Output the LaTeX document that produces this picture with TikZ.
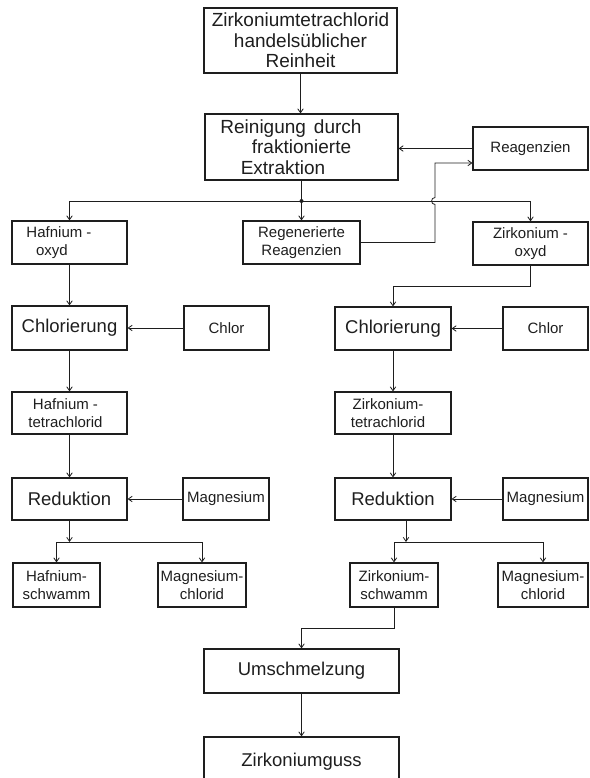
\documentclass[tikz,border=0pt]{standalone}
\usepackage{fontspec}
\setmainfont{Liberation Sans}
\usetikzlibrary{arrows.meta}
\definecolor{ink}{HTML}{1E1E1E}
\begin{document}
\begin{tikzpicture}[x=1pt,y=-1pt,
  box/.style={draw=ink, line width=1.1pt, inner sep=1pt, align=center, text=ink},
  huge/.style={font=\fontsize{19}{20.5}\selectfont},
  big/.style={font=\fontsize{18.5}{20}\selectfont},
  small/.style={font=\fontsize{15}{18}\selectfont},
  conn/.style={draw=ink, line width=0.8pt},
  arr/.style={conn, -{Straight Barb[length=4pt,width=5.5pt]}},
]
\useasboundingbox (0,0) rectangle (589,778);
\clip (0,0) rectangle (589,778);

% boxes
\node[box,huge,minimum width=193pt,minimum height=65pt] (top) at (300.5,40.5) {Zirkoniumtetrachlorid\\handelsüblicher\\Reinheit};
\node[box,huge,minimum width=193pt,minimum height=66pt] (b2) at (301.5,147) {Reinigung\hspace{8pt}durch\hspace*{21pt}\\fraktionierte\hspace*{45pt}\\Extraktion\hspace*{37pt}};
\node[box,small,minimum width=115pt,minimum height=43pt] (reag) at (530.5,148.5) {Reagenzien};

\node[box,small,minimum width=115pt,minimum height=43pt] (hfox) at (69.5,242.5) {Hafnium -\hspace*{21pt}\\oxyd\hspace*{35pt}};
\node[box,small,minimum width=117pt,minimum height=43pt] (regen) at (301.5,242.5) {Regenerierte\\Reagenzien};
\node[box,small,minimum width=115pt,minimum height=43pt] (zrox) at (530.5,243.5) {Zirkonium -\\oxyd};

\node[box,big,minimum width=115pt,minimum height=44pt] (chlL) at (69.5,328) {Chlorierung};
\node[box,small,minimum width=85pt,minimum height=44pt] (clL) at (226.5,328) {Chlor};
\node[box,big,minimum width=116pt,minimum height=43pt] (chlR) at (393,328.5) {Chlorierung};
\node[box,small,minimum width=85pt,minimum height=43pt] (clR) at (545.5,328.5) {Chlor};

\node[box,small,minimum width=115pt,minimum height=42pt] (hftc) at (69.5,413) {Hafnium -\hspace*{8pt}\\tetrachlorid\hspace*{8pt}};
\node[box,small,minimum width=116pt,minimum height=42pt] (zrtc) at (393,413) {Zirkonium-\hspace*{10pt}\\tetrachlorid\hspace*{10pt}};

\node[box,big,minimum width=115pt,minimum height=42pt] (redL) at (69.5,499) {Reduktion};
\node[box,small,minimum width=86pt,minimum height=42pt] (mgL) at (226,499) {Magnesium};
\node[box,big,minimum width=116pt,minimum height=42pt] (redR) at (393,499) {Reduktion};
\node[box,small,minimum width=85pt,minimum height=42pt] (mgR) at (545.5,499) {Magnesium};

\node[box,small,minimum width=87pt,minimum height=44pt] (hfsw) at (56.5,585) {Hafnium-\\schwamm};
\node[box,small,minimum width=88pt,minimum height=44pt] (mgclL) at (202,585) {Magnesium-\\chlorid};
\node[box,small,minimum width=88pt,minimum height=44pt] (zrsw) at (394,585) {Zirkonium-\\schwamm};
\node[box,small,minimum width=90pt,minimum height=44pt] (mgclR) at (543,585) {Magnesium-\\chlorid};

\node[box,big,minimum width=195pt,minimum height=44pt] (ums) at (301.5,671) {Umschmelzung};
\node[box,big,minimum width=195pt,minimum height=50pt] (guss) at (301.5,762) {Zirkoniumguss};

% connectors
\draw[arr] (top.south) -- (top.south |- b2.north);
\draw[arr] (reag.west) -- (reag.west -| b2.east);

\coordinate (j1) at (301.5,201);
\draw[conn] (b2.south) -- (j1);
\fill[ink] (j1) circle (2pt);
\draw[conn] (hfox.north |- j1) -- (zrox.north |- j1);
\draw[arr] (hfox.north |- j1) -- (hfox.north);
\draw[arr] (j1) -- (regen.north);
\draw[arr] (zrox.north |- j1) -- (zrox.north);

\coordinate (rin) at ([yshift=-14.5pt]reag.west);
\draw[arr] (regen.east) -- (435,242.5) -- (435,204.5)
  .. controls (430.5,204.5) and (430.5,197.5) .. (435,197.5)
  -- (435,163) -- (rin);

\draw[arr] (hfox.south) -- (chlL.north);
\draw[arr] (clL.west) -- (chlL.east);
\draw[arr] (chlL.south) -- (hftc.north);
\draw[arr] (hftc.south) -- (redL.north);
\draw[arr] (mgL.west) -- (redL.east);

\coordinate (jL) at (69.5,542);
\draw[arr] (redL.south) -- (jL);
\draw[conn] (hfsw.north |- jL) -- (mgclL.north |- jL);
\draw[arr] (hfsw.north |- jL) -- (hfsw.north);
\draw[arr] (mgclL.north |- jL) -- (mgclL.north);

\draw[arr] (zrox.south) -- ++(0,21) -| (chlR.north);
\draw[arr] (clR.west) -- (chlR.east);
\draw[arr] (chlR.south) -- (zrtc.north);
\draw[arr] (zrtc.south) -- (redR.north);
\draw[arr] (mgR.west) -- (redR.east);

\coordinate (jR) at (406,542);
\draw[arr] (jR |- redR.south) -- (jR);
\draw[conn] (zrsw.north |- jR) -- (mgclR.north |- jR);
\draw[arr] (zrsw.north |- jR) -- (zrsw.north);
\draw[arr] (mgclR.north |- jR) -- (mgclR.north);

\draw[arr] (zrsw.south) -- ++(0,21) -| (ums.north);
\draw[arr] (ums.south) -- (guss.north);
\end{tikzpicture}
\end{document}
